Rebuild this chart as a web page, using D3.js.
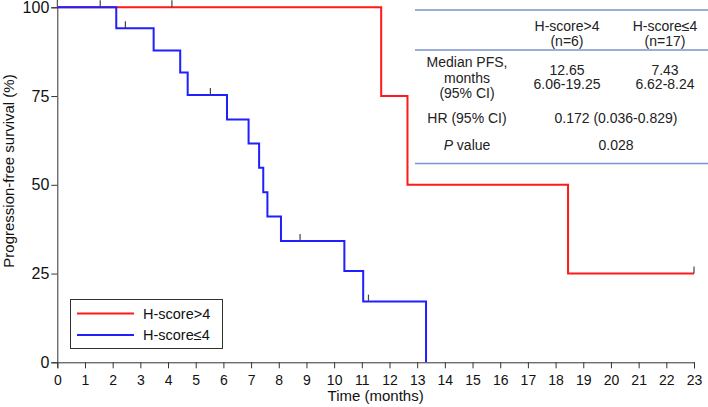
<!DOCTYPE html>
<html>
<head>
<meta charset="utf-8">
<script src="https://cdn.jsdelivr.net/npm/d3@7"></script>
<style>
  html, body { margin: 0; padding: 0; background: #fff; }
  svg { display: block; font-family: "Liberation Sans", Arial, sans-serif; }
</style>
</head>
<body>
<svg id="chart" width="708" height="407"></svg>
<script>
// ---- data ----
const xTicks = d3.range(0, 24, 1);
const yTicks = [0, 25, 50, 75, 100];

const seriesNames = ["H-score>4", "H-score\u22644"];

const redTimes = [0, 11.7, 12.65, 18.45, 23];
const redSurv  = [100, 75, 50, 25, 25];
const redCensorTimes = [1.55, 4.14, 23];
const redCensorSurv  = [100, 100, 25];

const blueTimes = [0, 2.13, 3.48, 4.44, 4.71, 6.13, 6.91, 7.29, 7.44, 7.59, 8.08, 10.37, 11.05, 13.32];
const blueSurv  = [100, 94.1, 87.8, 81.6, 75.3, 68.4, 61.6, 54.8, 47.9, 41.1, 34.2, 25.7, 17.1, 0];
const blueCensorTimes = [2.46, 5.53, 8.77, 11.24];
const blueCensorSurv  = [94.1, 75.3, 34.2, 17.1];

const tableHeader = [["H-score>4", "(n=6)"], ["H-score\u22644", "(n=17)"]];
const rowLabels = [["Median PFS,", "months", "(95% CI)"], ["HR (95% CI)"], ["P value"]];
const medianVals = [["12.65", "6.06-19.25"], ["7.43", "6.62-8.24"]];
const hrVal = "0.172 (0.036-0.829)";
const pVal = "0.028";

// ---- layout ----
const svg = d3.select("#chart");
const x = d3.scaleLinear().domain([0, 23]).range([57.3, 694]);
const y = d3.scaleLinear().domain([0, 100]).range([362.3, 7.3]);
const axisColor = "#333";
const red = "#ff1a1a", blue = "#1f1fff";

// axes
const gx = svg.append("g").attr("transform", `translate(0,${y(0)})`)
  .call(d3.axisBottom(x).tickValues(xTicks).tickSize(6).tickPadding(7).tickFormat(d3.format("d")));
gx.selectAll("text").attr("font-size", 14).attr("fill", "#111").attr("font-family", "Liberation Sans, Arial, sans-serif");
gx.selectAll("line,path").attr("stroke", axisColor);

const gy = svg.append("g").attr("transform", `translate(${x(0)},0)`)
  .call(d3.axisLeft(y).tickValues(yTicks).tickSize(6).tickPadding(2));
gy.selectAll("text").attr("font-size", 16).attr("fill", "#111").attr("font-family", "Liberation Sans, Arial, sans-serif");
gy.selectAll("line,path").attr("stroke", axisColor);
svg.append("line").attr("x1", x(0)).attr("x2", x(0)).attr("y1", 0).attr("y2", y(100)).attr("stroke", axisColor);

// axis titles
svg.append("text").attr("x", (x(0) + x(23)) / 2).attr("y", 401).attr("text-anchor", "middle")
  .attr("font-size", 15).attr("fill", "#111").text("Time (months)");
svg.append("text").attr("transform", `translate(14,${171}) rotate(-90)`).attr("text-anchor", "middle")
  .attr("font-size", 15).attr("fill", "#111").text("Progression-free survival (%)");

// curves
const line = d3.line().x(d => x(d[0])).y(d => y(d[1])).curve(d3.curveStepAfter);
const redPts = redTimes.map((t, i) => [t, redSurv[i]]);
const bluePts = blueTimes.map((t, i) => [t, blueSurv[i]]);
svg.append("path").attr("d", line(redPts)).attr("fill", "none").attr("stroke", red).attr("stroke-width", 2);
svg.append("path").attr("d", line(bluePts)).attr("fill", "none").attr("stroke", blue).attr("stroke-width", 2);

// censor marks
const censors = redCensorTimes.map((t, i) => [t, redCensorSurv[i]])
  .concat(blueCensorTimes.map((t, i) => [t, blueCensorSurv[i]]));
svg.selectAll(".cens").data(censors).enter().append("line")
  .attr("x1", d => x(d[0])).attr("x2", d => x(d[0]))
  .attr("y1", d => y(d[1])).attr("y2", d => y(d[1]) - 7)
  .attr("stroke", "#444").attr("stroke-width", 1.2);

// legend
svg.append("rect").attr("x", 70.5).attr("y", 299.5).attr("width", 152).attr("height", 49)
  .attr("fill", "#fff").attr("stroke", "#333").attr("stroke-width", 1);
[red, blue].forEach((c, i) => {
  const ly = 313.5 + i * 21.5;
  svg.append("line").attr("x1", 77).attr("x2", 134).attr("y1", ly).attr("y2", ly)
    .attr("stroke", c).attr("stroke-width", 2);
  svg.append("text").attr("x", 143).attr("y", ly + 5).attr("font-size", 14.5).attr("fill", "#111")
    .text(seriesNames[i]);
});

// table
const tblColor = "#7a93cf";
[10, 50, 163.5].forEach(ly => {
  svg.append("line").attr("x1", 415).attr("x2", 708).attr("y1", ly).attr("y2", ly)
    .attr("stroke", tblColor).attr("stroke-width", 1.5);
});
const c1 = 467, c2 = 567, c3 = 665, c23 = 616;
const tfs = 14;
function t(xp, yp, s) {
  return svg.append("text").attr("x", xp).attr("y", yp).attr("text-anchor", "middle")
    .attr("font-size", tfs).attr("fill", "#222").text(s);
}
[c2, c3].forEach((cx, i) => {
  t(cx, 31, tableHeader[i][0]);
  t(cx, 45.5, tableHeader[i][1]);
  t(cx, 74.5, medianVals[i][0]);
  t(cx, 89, medianVals[i][1]);
});
rowLabels[0].forEach((s, i) => t(c1, 67 + i * 15.5, s));
t(c1, 123, rowLabels[1][0]);
const pv = svg.append("text").attr("x", c1).attr("y", 150).attr("text-anchor", "middle")
  .attr("font-size", tfs).attr("fill", "#222");
pv.append("tspan").attr("font-style", "italic").text("P");
pv.append("tspan").text(" value");
t(c23, 123, hrVal);
t(c23, 150, pVal);
</script>
</body>
</html>
